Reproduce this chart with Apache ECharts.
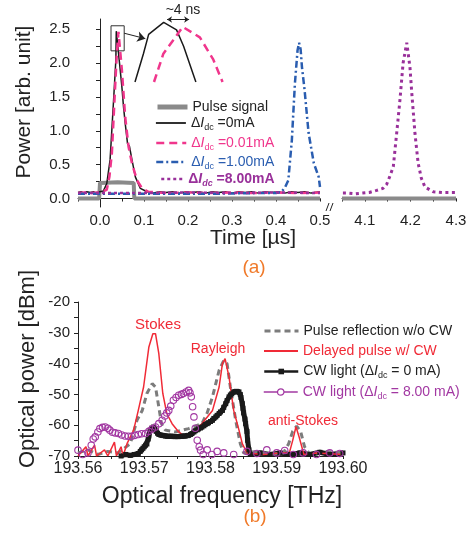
<!DOCTYPE html>
<html><head><meta charset="utf-8">
<script src="https://cdn.jsdelivr.net/npm/echarts@6/dist/echarts.min.js"></script>
<style>html,body{margin:0;padding:0;background:#fff}#c{width:473px;height:533px}</style>
</head><body><div id="c"></div>
<script>
// ===== (a) time domain: [time (µs), power (arb. unit)] =====
const pulseLeft = [[-0.05,0],[-0.002,0],[0.0,0.23],[0.04,0.24],[0.0766,0.23],[0.078,0],[0.5,0]];
const pulseRight = [[4.05,0],[4.097,0],[4.1,0.02],[4.103,0],[4.3,0]];
const dI0Left = [[-0.05,0.09],[-0.043,0.1],[-0.036,0.08],[-0.03,0.1],[-0.022,0.09],[-0.015,0.1],[-0.008,0.08],[0.0,0.1],
  [0.0075,0.11],[0.0154,0.22],[0.0229,0.57],[0.0305,1.41],[0.036,2.04],[0.037,2.47],[0.042,2.15],[0.0459,1.9],
  [0.0497,1.65],[0.0535,1.35],[0.0573,1.11],[0.0626,0.81],[0.067,0.77],[0.0727,0.57],[0.0803,0.32],[0.0917,0.15],
  [0.107,0.1],[0.12,0.08],[0.135,0.1],[0.15,0.09],[0.165,0.1],[0.18,0.08],[0.195,0.1],[0.21,0.09],[0.225,0.1],
  [0.24,0.08],[0.255,0.1],[0.27,0.09],[0.285,0.1],[0.3,0.08],[0.315,0.1],[0.33,0.09],[0.345,0.1],[0.36,0.08],
  [0.375,0.1],[0.39,0.09],[0.405,0.1],[0.42,0.08],[0.435,0.1],[0.45,0.09],[0.465,0.1],[0.48,0.08],[0.5,0.1]];
const dI001Left = [[-0.05,0.08],[-0.035,0.09],[-0.02,0.08],[-0.005,0.09],[0.0,0.09],[0.0154,0.13],[0.0214,0.32],
  [0.027,0.67],[0.0344,1.65],[0.038,2.1],[0.042,2.46],[0.0497,1.9],[0.0573,1.2],[0.065,0.76],[0.0727,0.52],
  [0.084,0.27],[0.0956,0.15],[0.11,0.1],[0.13,0.09],[0.16,0.08],[0.2,0.09],[0.25,0.08],[0.3,0.09],[0.35,0.08],
  [0.4,0.09],[0.45,0.08],[0.5,0.09]];
const dI1Left = [[-0.05,0.07],[0.05,0.07],[0.15,0.07],[0.25,0.07],[0.35,0.08],[0.4,0.08],[0.413,0.1],[0.421,0.17],
  [0.428,0.27],[0.436,0.86],[0.443,1.7],[0.449,2.19],[0.4525,2.3],[0.456,2.2],[0.459,1.94],[0.465,1.6],
  [0.474,0.97],[0.486,0.52],[0.497,0.32],[0.5,0.17]];
const dI8Left = [[-0.05,0.08],[0.1,0.08],[0.2,0.09],[0.3,0.08],[0.4,0.09],[0.5,0.08]];
const dI8Right = [[4.052,0.08],[4.065,0.08],[4.08,0.07],[4.095,0.08],[4.11,0.09],[4.126,0.12],[4.14,0.15],
  [4.148,0.21],[4.155,0.33],[4.1625,0.47],[4.17,0.97],[4.177,1.45],[4.184,2.0],[4.192,2.3],[4.199,1.94],
  [4.203,1.56],[4.21,0.96],[4.217,0.52],[4.224,0.3],[4.232,0.17],[4.25,0.1],[4.27,0.09],[4.3,0.09]];
// inset (zoomed peak): [time (ns), power]
const insetBlack = [[25.65,2.10],[28.4,2.29],[30.1,2.42],[35.0,2.50],[39.2,2.45],[41.5,2.34],[45.5,2.10]];
const insetPink = [[31.85,2.10],[34.9,2.29],[38.1,2.38],[41.2,2.47],[46.8,2.40],[51.2,2.25],[54.2,2.10]];
const timeLabelsLeft = [0,0.1,0.2,0.3,0.4,0.5];
const timeTicksLeft = [-0.05,0,0.05,0.1,0.15,0.2,0.25,0.3,0.35,0.4,0.45,0.5];
const timeLabelsRight = [4.1,4.2,4.3];
const timeTicksRight = [4.05,4.1,4.15,4.2,4.25,4.3];
const powerLabels = [0,0.5,1,1.5,2,2.5];
const powerTicks = [0,0.25,0.5,0.75,1,1.25,1.5,1.75,2,2.25,2.5];

// ===== (b) spectrum: [frequency (THz), optical power (dBm)] =====
const reflNoCW = [[193.56,-69],[193.5615,-68],[193.563,-69.5],[193.5645,-68.5],[193.566,-69],[193.5666,-68.1],
  [193.5679,-66],[193.5689,-58.4],[193.5697,-55.2],[193.5704,-49.7],[193.5712,-46.5],[193.5717,-47.6],
  [193.5722,-54.1],[193.5726,-59.5],[193.5732,-61.6],[193.5747,-62.2],[193.5767,-61.1],[193.5787,-59.5],
  [193.5795,-56],[193.5803,-50.8],[193.5813,-42.2],[193.582,-39],[193.5825,-40],[193.583,-47.6],[193.5838,-58.4],
  [193.5845,-66],[193.585,-69],[193.587,-68.5],[193.589,-69.5],[193.591,-69],[193.5918,-66],[193.5924,-62],
  [193.593,-60.3],[193.5936,-62],[193.5942,-67],[193.595,-69.5],[193.597,-68.5],[193.6,-69]];
const delayedCW = [[193.56,-70],[193.5612,-67],[193.5615,-70],[193.5625,-66.5],[193.5628,-70],[193.564,-68],
  [193.5645,-70],[193.5655,-65.5],[193.5658,-70],[193.5665,-67],[193.5668,-70],[193.5674,-66],[193.5684,-61.6],
  [193.5691,-55.2],[193.5699,-47.6],[193.5707,-34.6],[193.5713,-30.3],[193.5717,-30.3],[193.5722,-36.8],
  [193.5728,-49.7],[193.5734,-56.2],[193.5742,-59.5],[193.5752,-62.2],[193.5762,-63.8],[193.5772,-62.7],
  [193.5787,-59.5],[193.5803,-55.2],[193.5813,-47.6],[193.5818,-40],[193.5822,-38.4],[193.5828,-44.4],
  [193.5835,-55.2],[193.5843,-61.6],[193.5848,-66],[193.5855,-69],[193.588,-69.5],[193.5905,-69],[193.5919,-69],
  [193.5924,-65],[193.5929,-60.5],[193.5934,-64],[193.5941,-69.5],[193.596,-69],[193.6,-69.5]];
const cw0mA = [[193.5665,-70],[193.5672,-69.5],[193.5679,-69.8],[193.5685,-69.5],[193.5691,-69.2],[193.5694,-68.5],
  [193.5696,-68],[193.5698,-67.5],[193.57,-67],[193.5702,-66.5],
  [193.5704,-66.1],[193.5706,-64.5],[193.5707,-63.5],[193.5709,-61.6],[193.5711,-61],[193.5714,-60.6],[193.5716,-61.3],
  [193.5718,-62],[193.572,-62.6],[193.5722,-63],[193.5725,-63.2],
  [193.5727,-63.3],[193.573,-63.4],[193.5732,-63.5],[193.5735,-63.6],[193.5737,-63.6],[193.574,-63.6],[193.5742,-63.6],
  [193.5745,-63.7],[193.5747,-63.7],[193.575,-63.7],[193.5752,-63.7],[193.5755,-63.6],
  [193.5757,-63.6],[193.576,-63.5],[193.5762,-63.5],[193.5765,-63.4],[193.5767,-63.3],[193.577,-63],[193.5772,-62.7],
  [193.5775,-62.2],[193.5777,-61.8],[193.578,-61.5],[193.5782,-61.2],[193.5785,-60.9],
  [193.5787,-60.6],[193.579,-60.2],[193.5792,-59.8],[193.5795,-59.5],[193.5797,-59.2],[193.58,-58.8],[193.5803,-58.4],
  [193.5805,-57.8],[193.5808,-57.3],[193.581,-56.8],[193.5813,-56.2],[193.5815,-55.7],
  [193.5818,-55.2],[193.582,-54.2],[193.5823,-53],[193.5825,-52],[193.5828,-50.8],[193.583,-50.2],[193.5832,-49.8],
  [193.5835,-49.2],[193.5837,-49.1],[193.5839,-49],[193.5841,-49.1],
  [193.5843,-49.2],[193.5845,-50],[193.5846,-51],[193.5848,-53],[193.5849,-54.5],[193.585,-56],[193.5852,-58],
  [193.5853,-59.5],[193.5855,-62],[193.5856,-64.9],[193.5858,-68],
  [193.586,-69.5],[193.5875,-69],[193.589,-69.5],[193.5905,-69],[193.592,-69.5],[193.5935,-69],[193.595,-69.5],
  [193.5965,-68.8],[193.598,-69.5],[193.6,-69]];
const cw8mA = [[193.56,-68.1],[193.5607,-69.5],[193.5615,-69],[193.562,-66.5],[193.5623,-64.5],[193.5626,-63.8],
  [193.563,-62.2],[193.5633,-61.1],[193.5637,-60.7],[193.5641,-60.6],[193.5645,-61],[193.5648,-61.6],
  [193.5652,-62.3],[193.5656,-62.5],[193.5661,-62.7],[193.5666,-63.2],[193.5671,-63.5],[193.5676,-63.6],
  [193.5681,-63.6],[193.5686,-63.3],[193.5691,-63],[193.5696,-62.8],[193.5702,-62.7],[193.5707,-62],
  [193.5712,-61.2],[193.5717,-60.6],[193.5722,-59.5],[193.5727,-58.4],[193.5731,-57],[193.5734,-56],
  [193.5737,-55.2],[193.574,-53.8],[193.5744,-51.9],[193.5748,-51],[193.5752,-50.3],[193.5756,-50],
  [193.5759,-49.7],[193.5763,-49.2],[193.5767,-48.7],[193.5769,-49.5],[193.5771,-50.8],[193.5773,-54],
  [193.5775,-57.3],[193.5777,-61],[193.578,-64.9],[193.5783,-67],[193.5785,-68.1],[193.5789,-69.5],
  [193.5795,-68],[193.5802,-69.5],[193.581,-68.5],[193.582,-69],[193.5835,-69.5],[193.5855,-68.5],
  [193.587,-69.2],[193.5885,-68],[193.59,-69],[193.5912,-68.2],[193.5925,-69.5],[193.594,-69],[193.596,-69.5],
  [193.598,-69],[193.5995,-69.2]];
const freqLabels = [193.56,193.57,193.58,193.59,193.60];
const freqTicks = [193.56,193.565,193.57,193.575,193.58,193.585,193.59,193.595,193.60];
const dbmLabels = [-70,-60,-50,-40,-30,-20];
const dbmTicks = [-70,-65,-60,-55,-50,-45,-40,-35,-30,-25,-20];

const topLegendText = ['{n|Pulse signal}','{n|Δ}{i|I}{s|dc}{n| =0mA}','{n|Δ}{i|I}{s|dc}{n| =0.01mA}',
  '{n|Δ}{i|I}{s|dc}{n| =1.00mA}','{n|Δ}{i|I}{s|dc}{n| =8.00mA}'];
const botLegendText = ['{n|Pulse reflection w/o CW}','{n|Delayed pulse w/ CW}',
  '{n|CW light (Δ}{i|I}{s|dc}{n| = 0 mA)}','{n|CW light (Δ}{i|I}{s|dc}{n| = 8.00 mA)}'];

// ===== styling =====
const FF = '"Liberation Sans", Arial, Helvetica, sans-serif';
const C = {gray:'#8a8a8a', black:'#1a1a1a', pink:'#f0368c', blue:'#2a5db0', purple:'#99309a',
  gray2:'#7c7c7c', red:'#f02a36', purple2:'#a238a2', orange:'#f07a2a', text:'#222'};

function rich(color, size, bold){
  const fw = bold ? 'bold' : 'normal';
  return {
    n:{color, fontSize:size, fontFamily:FF, fontWeight:fw, lineHeight:18, verticalAlign:'middle'},
    i:{color, fontSize:size, fontFamily:FF, fontWeight:fw, fontStyle:'italic', lineHeight:18, verticalAlign:'middle'},
    s:{color, fontSize:Math.round(size*0.62), fontFamily:FF, fontWeight:fw, fontStyle: bold?'italic':'normal', lineHeight:10, verticalAlign:'bottom'}
  };
}
const noSym = {itemStyle:{opacity:0}};
const topNames = ['Pulse signal','dI0','dI001','dI1','dI8'];
const botNames = ['refl','delayed','cw0','cw8'];
function legend(name, text, left, yc, iw, ih, color, size, bold, lw, extra){
  return Object.assign({
    left, top: yc - ih/2, padding:0, itemWidth:iw, itemHeight:ih, selectedMode:false,
    data:[name], formatter: () => text,
    textStyle:{color, fontSize:size, fontFamily:FF, rich:rich(color,size,bold)},
    lineStyle:{width:lw}
  }, extra||{});
}
const legends = [
  legend(topNames[0], topLegendText[0], 155, 107, 30, 14, C.text, 14, false, 5, noSym),
  legend(topNames[1], topLegendText[1], 155, 123, 30, 14, C.text, 14, false, 1.8, noSym),
  legend(topNames[2], topLegendText[2], 155, 143, 30, 14, C.pink, 14, false, 2.5, noSym),
  legend(topNames[3], topLegendText[3], 155, 162, 30, 14, C.blue, 14, false, 2.5, noSym),
  legend(topNames[4], topLegendText[4], 160, 179, 22, 14, C.purple, 14, true, 2.5, noSym),
  legend(botNames[0], botLegendText[0], 263, 328, 34, 8, C.text, 14, false, 3, noSym),
  legend(botNames[1], botLegendText[1], 263, 348, 34, 8, C.red, 14, false, 2, noSym),
  legend(botNames[2], botLegendText[2], 263, 368, 34, 7, C.text, 14, false, 2.5, {itemStyle:{color:C.black}}),
  legend(botNames[3], botLegendText[3], 263, 389, 34, 8, C.purple2, 14, false, 1.5,
    {itemStyle:{color:'#fff', borderColor:C.purple2, borderWidth:1.2}})
];

const axisLine = {show:true, lineStyle:{color:C.text, width:1}};
const lbl = (vals, dec, size) => ({customValues:vals, color:C.text, fontSize:size, fontFamily:FF,
  formatter: v => Number(v).toFixed(dec)});
function xAx(grid, min, max, labels, ticks, dec, size, margin){
  return {type:'value', gridIndex:grid, min, max, axisLine, splitLine:{show:false},
    axisTick:{show:true, customValues:ticks, length:3, inside:false, lineStyle:{color:C.text}},
    axisLabel:Object.assign(lbl(labels, dec, size), {margin})};
}
function yAx(grid, min, max, labels, ticks, dec, size, margin){
  return {type:'value', gridIndex:grid, min, max, axisLine, splitLine:{show:false},
    axisTick:{show:true, customValues:ticks, length:4, inside:false, lineStyle:{color:C.text}},
    axisLabel:Object.assign(lbl(labels, dec, size), {margin})};
}
const hiddenAx = (grid, min, max) => ({type:'value', gridIndex:grid, min, max, show:false, splitLine:{show:false}});

const line = (name, data, xi, color, width, type, extra) => Object.assign({
  type:'line', name, data, xAxisIndex:xi, yAxisIndex:xi, symbol:'none', smooth:false,
  lineStyle:{color, width, type}, itemStyle:{color}, silent:true, animation:false
}, extra||{});

const option = {
  animation:false,
  grid:[
    {left:78, top:19, width:242, height:188},
    {left:342, top:19, width:114, height:188},
    {left:133, top:15, width:92, height:67},
    {left:78, top:302, width:265, height:154}
  ],
  xAxis:[
    xAx(0, -0.05, 0.5, timeLabelsLeft, timeTicksLeft, 1, 15, 6),
    xAx(1, 4.05, 4.3, timeLabelsRight, timeTicksRight, 1, 15, 6),
    hiddenAx(2, 25, 55),
    xAx(3, 193.56, 193.60, freqLabels, freqTicks, 2, 16, 5)
  ],
  yAxis:[
    yAx(0, -0.125, 2.65, powerLabels, powerTicks, 1, 15, 8),
    hiddenAx(1, -0.125, 2.65),
    hiddenAx(2, 2.1, 2.55),
    yAx(3, -70, -20, dbmLabels, dbmTicks, 0, 15, 8)
  ],
  legend: legends,
  series:[
    line(topNames[0], pulseLeft, 0, C.gray, 4, 'solid'),
    line(topNames[0], pulseRight, 1, C.gray, 4, 'solid'),
    line(topNames[1], dI0Left, 0, C.black, 1.5, 'solid', {
      markArea:{silent:true, itemStyle:{color:'rgba(0,0,0,0)', borderColor:'#333', borderWidth:1},
        data:[[{coord:[0.025,2.18]},{coord:[0.055,2.55]}]]},
      markLine:{silent:true, symbol:['none','arrow'], symbolSize:8, label:{show:false},
        lineStyle:{color:'#222', width:1, type:'solid'},
        data:[[{coord:[0.055,2.44]},{coord:[0.103,2.36]}]]}
    }),
    line(topNames[2], dI001Left, 0, C.pink, 2.5, [8,5]),
    line(topNames[3], dI1Left, 0, C.blue, 2.5, [7,3,2,3]),
    line(topNames[4], dI8Left, 0, C.purple, 2.5, [3,3]),
    line(topNames[4], dI8Right, 1, C.purple, 3, [3,3.5]),
    line(topNames[1], insetBlack, 2, C.black, 1.5, 'solid', {
      markLine:{silent:true, symbol:['arrow','arrow'], symbolSize:5, label:{show:false},
        lineStyle:{color:'#222', width:1, type:'solid'},
        data:[[{coord:[36.1,2.52]},{coord:[43.3,2.52]}]]}
    }),
    line(topNames[2], insetPink, 2, C.pink, 2.5, [8,5]),
    line(botNames[2], cw0mA, 3, C.black, 5, 'solid', {symbol:'rect', symbolSize:5, showSymbol:true,
      itemStyle:{color:C.black}}),
    line(botNames[0], reflNoCW, 3, C.gray2, 3, [6,4]),
    line(botNames[3], cw8mA, 3, C.purple2, 0, 'solid', {symbol:'circle', symbolSize:6.5, showSymbol:true,
      itemStyle:{color:'rgba(255,255,255,0)', borderColor:C.purple2, borderWidth:1.1}}),
    line(botNames[1], delayedCW, 3, C.red, 1.5, 'solid')
  ],
  graphic:[
    {type:'text', x:183, y:10, style:{text:'~4 ns', fill:C.text, fontSize:14, fontFamily:FF, align:'center', verticalAlign:'middle'}},
    {type:'text', x:24, y:102, rotation:Math.PI/2, style:{text:'Power [arb. unit]', fill:C.text, fontSize:21, fontFamily:FF, align:'center', verticalAlign:'middle'}},
    {type:'text', x:253, y:238, style:{text:'Time [µs]', fill:C.text, fontSize:21, fontFamily:FF, align:'center', verticalAlign:'middle'}},
    {type:'text', x:254, y:268, style:{text:'(a)', fill:C.orange, fontSize:19, fontFamily:FF, align:'center', verticalAlign:'middle'}},
    {type:'line', shape:{x1:326, y1:211, x2:329, y2:203}, style:{stroke:C.text, lineWidth:1}},
    {type:'line', shape:{x1:330, y1:211, x2:333, y2:203}, style:{stroke:C.text, lineWidth:1}},
    {type:'text', x:28, y:369, rotation:Math.PI/2, style:{text:'Optical power [dBm]', fill:C.text, fontSize:22, fontFamily:FF, align:'center', verticalAlign:'middle'}},
    {type:'text', x:222, y:497, style:{text:'Optical frequency [THz]', fill:C.text, fontSize:23, fontFamily:FF, align:'center', verticalAlign:'middle'}},
    {type:'text', x:255, y:517, style:{text:'(b)', fill:C.orange, fontSize:19, fontFamily:FF, align:'center', verticalAlign:'middle'}},
    {type:'text', x:158, y:325, style:{text:'Stokes', fill:C.red, fontSize:15, fontFamily:FF, align:'center', verticalAlign:'middle'}},
    {type:'text', x:218, y:349, style:{text:'Rayleigh', fill:C.red, fontSize:14, fontFamily:FF, align:'center', verticalAlign:'middle'}},
    {type:'text', x:303, y:421, style:{text:'anti-Stokes', fill:C.red, fontSize:14, fontFamily:FF, align:'center', verticalAlign:'middle'}}
  ]
};
const chart = echarts.init(document.getElementById('c'), null, {renderer:'canvas'});
chart.setOption(option);
</script></body></html>
